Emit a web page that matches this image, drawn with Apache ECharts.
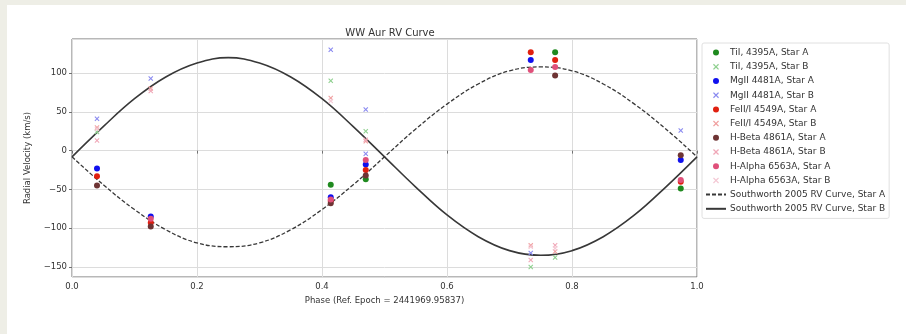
<!DOCTYPE html>
<html>
<head>
<meta charset="utf-8">
<script src="https://cdn.jsdelivr.net/npm/echarts@6/dist/echarts.min.js"></script>
<style>
html,body{margin:0;padding:0;background:#eeeee6;}
#card{position:absolute;left:7px;top:5px;width:899px;height:329px;background:#fff;}
#chart{position:absolute;left:0;top:0;width:906px;height:334px;}
</style>
</head>
<body>
<div id="card"></div>
<div id="chart"></div>
<script>
// ---- data ----
var titleText = 'WW Aur RV Curve';
var xName = 'Phase (Ref. Epoch = 2441969.95837)';
var yName = 'Radial Velocity (km/s)';

var tiA    = [[0.414,-44],[0.47,-37],[0.773,127],[0.974,-49]];
var tiB    = [[0.04,24],[0.414,90],[0.47,25],[0.734,-150],[0.773,-138]];
var mgA    = [[0.04,-23],[0.126,-85],[0.414,-60],[0.47,-18],[0.734,117],[0.974,-12]];
var mgB    = [[0.04,41],[0.126,93],[0.414,130],[0.47,53],[0.47,-4],[0.734,-132],[0.974,26]];
var feA    = [[0.04,-33],[0.126,-93],[0.414,-65],[0.47,-25],[0.734,127],[0.773,117],[0.974,-40]];
var feB    = [[0.04,30],[0.126,80],[0.414,68],[0.47,12],[0.734,-122],[0.773,-130]];
var hbA    = [[0.04,-45],[0.126,-98],[0.414,-68],[0.47,-32],[0.773,97],[0.974,-6]];
var hbB    = [[0.04,13],[0.126,77],[0.47,14],[0.734,-141],[0.773,-122]];
var haA    = [[0.126,-88],[0.414,-63],[0.47,-12],[0.734,104],[0.773,108],[0.974,-38]];
var haB    = [[0.04,28],[0.414,64],[0.734,-124],[0.773,-126]];

var curvePhase = [0,0.05,0.1,0.15,0.2,0.25,0.3,0.35,0.4,0.45,0.5,0.55,0.6,0.65,0.7,0.75,0.8,0.85,0.9,0.95,1.0];
var curveA = [-8,-44,-76,-102,-119,-124,-119,-102,-76,-44,-8,28,60,86,103,108,103,86,60,28,-8];
var curveB = [-8,31,67,95,113,120,113,95,67,31,-8,-47,-83,-111,-129,-135,-129,-111,-83,-47,-8];

var seriesNames = ['TiI, 4395A, Star A','TiI, 4395A, Star B','MgII 4481A, Star A','MgII 4481A, Star B',
  'FeII/I 4549A, Star A','FeII/I 4549A, Star B','H-Beta 4861A, Star A','H-Beta 4861A, Star B',
  'H-Alpha 6563A, Star A','H-Alpha 6563A, Star B'];
var curveNames = ['Southworth 2005 RV Curve, Star A','Southworth 2005 RV Curve, Star B'];
var seriesData = [tiA,tiB,mgA,mgB,feA,feB,hbA,hbB,haA,haB];
var seriesColors = ['#1f8a1f','#8fd08f','#1010ee','#8a8af0','#e02010','#f0a0a0','#6e3434','#f0a8b8','#e0507a','#f4c8d4'];

// ---- chart ----
var FONT = 'DejaVu Sans';
var X_SYM = 'path://M0,1.5L1.5,0L5,3.5L8.5,0L10,1.5L6.5,5L10,8.5L8.5,10L5,6.5L1.5,10L0,8.5L3.5,5Z';

var series = [];
for (var i = 0; i < seriesData.length; i++) {
  var isB = (i % 2 === 1);
  series.push({
    name: seriesNames[i],
    type: 'scatter',
    data: seriesData[i],
    symbol: isB ? X_SYM : 'circle',
    symbolSize: isB ? 5 : 6,
    itemStyle: {color: seriesColors[i], opacity: 1},
    z: 3
  });
}
function pairs(xs, ys){ var out=[]; for (var k=0;k<xs.length;k++) out.push([xs[k], ys[k]]); return out; }
series.push({
  name: curveNames[0], type: 'line', data: pairs(curvePhase, curveA), smooth: 0.4,
  symbol: 'none', lineStyle: {color: '#383838', width: 1.3, type: [4,2]}, itemStyle:{color:'#383838', opacity: 0}, z: 2
});
series.push({
  name: curveNames[1], type: 'line', data: pairs(curvePhase, curveB), smooth: 0.4,
  symbol: 'none', lineStyle: {color: '#383838', width: 1.6, type: 'solid'}, itemStyle:{color:'#383838', opacity: 0}, z: 2
});

var legendData = seriesNames.slice();
legendData.push({name: curveNames[0], itemStyle: {opacity: 0}});
legendData.push({name: curveNames[1], itemStyle: {opacity: 0}});

var chart = echarts.init(document.getElementById('chart'), null, {renderer: 'canvas'});
chart.setOption({
  backgroundColor: 'transparent',
  animation: false,
  textStyle: {fontFamily: FONT},
  title: {
    text: titleText, left: 385, top: 23, textAlign: 'center',
    textStyle: {fontSize: 10, fontWeight: 'normal', color: '#333', fontFamily: FONT}
  },
  grid: {left: 72, right: 209, top: 39, bottom: 57, show: true, borderColor: '#707070', borderWidth: 1, backgroundColor: 'transparent'},
  xAxis: {
    type: 'value', min: 0, max: 1, interval: 0.2,
    name: xName, nameLocation: 'middle', nameGap: 18,
    nameTextStyle: {fontSize: 8.5, color: '#333', fontFamily: FONT},
    axisLine: {show: false},
    axisTick: {show: true, length: 3, lineStyle: {color: '#707070'}},
    axisLabel: {fontSize: 8.5, color: '#333', margin: 5, fontFamily: FONT, showMinLabel: true, showMaxLabel: true,
      formatter: function(v){ return v.toFixed(1); }},
    splitLine: {show: true, lineStyle: {color: '#dcdcdc', width: 1}}
  },
  yAxis: {
    type: 'value', min: -163, max: 144, splitNumber: 6,
    name: yName, nameLocation: 'middle', nameGap: 35, nameRotate: 90,
    nameTextStyle: {fontSize: 8.5, color: '#333', fontFamily: FONT},
    axisLine: {show: false},
    axisTick: {show: true, length: 3, lineStyle: {color: '#707070'}},
    axisLabel: {fontSize: 8.5, color: '#333', margin: 5, fontFamily: FONT, showMinLabel: false, showMaxLabel: false,
      formatter: function(v){ return String(v).replace('-', '\u2212'); }},
    splitLine: {show: true, lineStyle: {color: '#dcdcdc', width: 1}}
  },
  legend: {
    orient: 'vertical', left: 702, top: 43,
    data: legendData,
    itemWidth: 20, itemHeight: 6, itemGap: 5,
    padding: [5, 4, 5, 3],
    backgroundColor: '#fff', borderColor: '#e0e0e0', borderWidth: 1, borderRadius: 2,
    textStyle: {fontSize: 9, color: '#333', fontFamily: FONT, lineHeight: 9.2, padding: [0,0,0,-1]}
  },
  series: series
});
</script>
</body>
</html>
